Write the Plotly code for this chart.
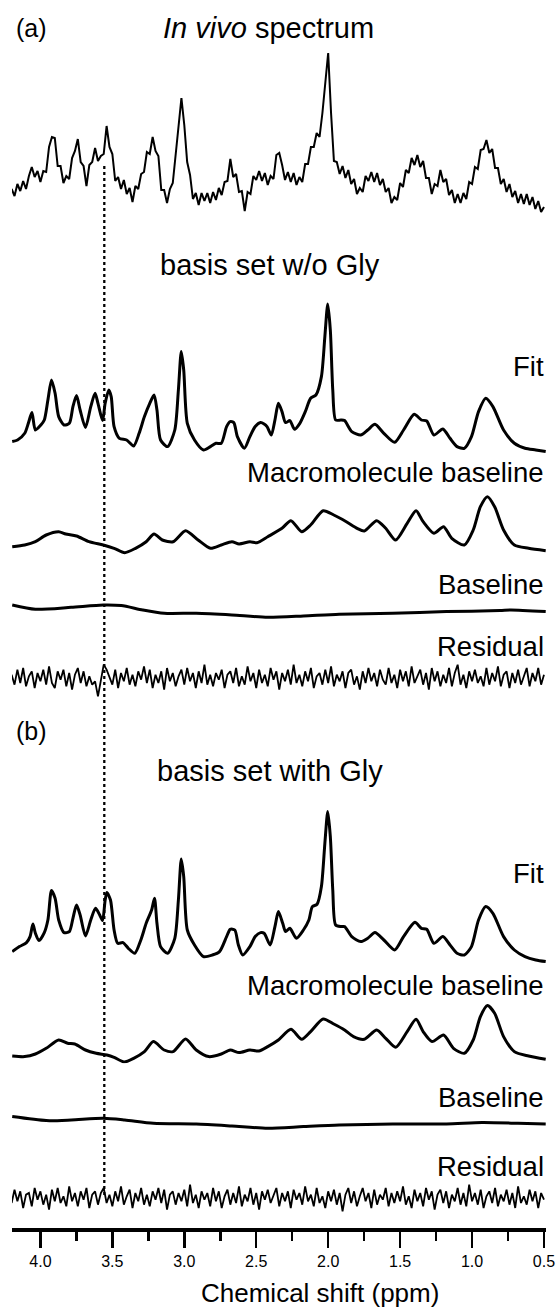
import plotly.graph_objects as go

# ---------------- data ----------------
GRID_START = 4.20   # ppm, first point of the uniformly sampled traces
GRID_STEP = 0.02    # ppm step of the uniformly sampled traces
GLY_PPM = 3.556     # glycine position marked by the dotted line

invivo = [
    31, 24, 36, 29, 39, 31, 44, 53, 43, 49,
    38, 49, 48, 73, 83, 82, 54, 54, 37, 44,
    41, 62, 69, 81, 58, 54, 34, 55, 58, 72,
    59, 64, 66, 94, 73, 66, 39, 43, 31, 40,
    26, 32, 18, 34, 31, 46, 48, 68, 66, 83,
    69, 64, 30, 30, 17, 31, 37, 66, 95, 122,
    95, 58, 45, 21, 27, 15, 27, 19, 27, 17,
    28, 20, 32, 25, 38, 39, 61, 43, 46, 28,
    29, 9, 28, 26, 44, 40, 49, 39, 47, 35,
    44, 41, 65, 67, 55, 40, 48, 38, 47, 35,
    43, 38, 56, 56, 73, 73, 87, 83, 107, 140,
    167, 107, 59, 58, 46, 54, 42, 50, 36, 41,
    26, 32, 28, 44, 39, 48, 38, 47, 35, 41,
    28, 32, 17, 23, 20, 37, 33, 50, 47, 62,
    55, 65, 53, 59, 42, 42, 26, 36, 34, 50,
    38, 41, 25, 30, 17, 26, 17, 27, 21, 38,
    36, 53, 51, 70, 71, 80, 67, 71, 52, 52,
    36, 41, 28, 36, 23, 29, 17, 26, 16, 26,
    15, 23, 11, 19, 8, 13,
]

residual_a = [
    2, -4, 5, -3, 6, -5, 1, 4, -6, 3,
    -2, 5, -4, 7, -3, -6, 4, -1, 5, -5,
    3, -7, 2, 6, -3, 4, -5, 1, -4, -2,
    -11, -2, 8, 5, 1, -4, 5, -6, 3, -2,
    6, -4, 2, -5, 4, -1, 7, -3, 5, -6,
    2, -3, 4, -7, 6, -2, 3, -5, 1, 5,
    -4, 6, -2, 3, -6, 4, -3, 8, -4, 2,
    -5, 3, -1, 5, -6, 2, 4, -3, 6, -5,
    1, -4, 7, -2, 3, -6, 5, -3, 2, -5,
    6, -1, 4, -7, 3, -2, 5, -4, 8, -3,
    2, -5, 4, -2, 6, -6, 1, 3, -4, 5,
    -3, 7, -5, 2, -2, 4, -6, 3, 5, -4,
    1, -7, 4, -3, 6, -2, 3, -5, 5, -1,
    -4, 6, -3, 2, -6, 5, -2, 4, -5, 7,
    -3, 1, 5, -4, 3, -7, 6, -2, 4, -5,
    2, -3, 6, -5, 3, 8, -4, 2, -6, 4,
    -2, 5, -3, 1, -5, 6, -4, 3, -2, 7,
    -5, 2, 4, -6, 3, -3, 5, -4, 1, 6,
    -5, 3, -2, 6, -4, 2,
]

residual_b = [
    -3, 5, -2, 4, -6, 2, 3, -5, 6, -1,
    4, -4, 2, -7, 5, -2, 6, -3, 1, -5,
    7, -2, 3, -5, 4, -1, 6, -6, 2, 4,
    -4, 3, 6, -3, 2, -5, 4, -2, 7, -4,
    1, 5, -6, 3, -2, 6, -4, 2, -5, 4,
    -1, 6, -3, 5, -7, 2, 4, -4, 3, -2,
    5, -5, 8, -3, 2, -6, 4, -1, 3, -5,
    6, -2, 4, -6, 1, 5, -4, 3, -3, 7,
    -5, 2, -2, 6, -4, 3, -7, 4, -1, 5,
    -3, 2, 6, -5, 3, -2, 4, -6, 5, -1,
    3, -4, 7, -2, 2, -5, 6, -3, 1, -6,
    4, -2, 5, -4, 3, -8, 2, 6, -3, 4,
    -5, 1, 6, -2, 3, -6, 5, -4, 2, -1,
    6, -5, 3, -3, 4, -2, 7, -4, 1, -6,
    5, -2, 3, -5, 6, -1, 4, -7, 2, 5,
    -3, 4, -6, 2, -2, 6, -4, 3, -5, 8,
    -2, 3, -4, 5, -6, 1, 4, -3, 6, -5,
    2, -2, 5, -4, 3, -6, 7, -3, 1, -4,
    5, -2, 4, -6, 3, -1,
]

fit_a_ppm = [
    4.196, 4.159, 4.109, 4.084, 4.059, 4.035, 3.997, 3.973, 3.948, 3.923,
    3.898, 3.873, 3.836, 3.799, 3.774, 3.749, 3.724, 3.687, 3.650, 3.620,
    3.600, 3.568, 3.550, 3.525, 3.508, 3.488, 3.451, 3.401, 3.352, 3.314,
    3.277, 3.240, 3.210, 3.190, 3.165, 3.116, 3.066, 3.041, 3.021, 3.004,
    2.979, 2.929, 2.867, 2.818, 2.780, 2.743, 2.706, 2.681, 2.656, 2.631,
    2.582, 2.544, 2.507, 2.470, 2.445, 2.425, 2.395, 2.370, 2.346, 2.321,
    2.296, 2.266, 2.234, 2.197, 2.159, 2.122, 2.085, 2.047, 2.023, 2.003,
    1.985, 1.968, 1.948, 1.911, 1.886, 1.836, 1.774, 1.725, 1.675, 1.613,
    1.538, 1.476, 1.402, 1.352, 1.315, 1.265, 1.203, 1.153, 1.104, 1.054,
    1.004, 0.955, 0.905, 0.855, 0.781, 0.706, 0.632, 0.557, 0.488,
]
fit_a = [
    11.7, 13.3, 20, 30, 40.7, 23.3, 28.3, 33.3, 53.3, 73.3,
    60, 36.7, 28.3, 30, 46.7, 57.7, 43.3, 25.7, 46.7, 60,
    50, 32.7, 50, 63.3, 56.7, 26.7, 15, 13.3, 7.3, 20,
    36.7, 50, 58.3, 43.3, 13.3, 6.7, 23.3, 63.3, 101.7, 83.3,
    30, 13.3, 3.3, 6.7, 10, 10, 26.7, 31.7, 30.7, 16.7,
    5, 16.7, 26.7, 30.7, 29.3, 26.7, 18.3, 33.3, 50, 41.7,
    30.7, 32.7, 24, 30, 41.7, 55, 58.3, 76.7, 116.7, 149.3,
    123.3, 63.3, 33.3, 33.3, 32.7, 21.7, 18.3, 23.3, 29, 20,
    11, 23.3, 39, 33.3, 32.3, 18.3, 24.3, 15, 6.7, 5,
    16.7, 41.7, 55, 46.7, 23.3, 10, 5, 3.3, 1.7,
]

mm_a_ppm = [
    4.196, 4.109, 4.035, 3.960, 3.873, 3.824, 3.749, 3.662, 3.563, 3.488,
    3.414, 3.339, 3.265, 3.210, 3.153, 3.078, 2.991, 2.904, 2.818, 2.743,
    2.669, 2.619, 2.544, 2.495, 2.420, 2.321, 2.259, 2.184, 2.122, 2.035,
    1.961, 1.874, 1.799, 1.749, 1.663, 1.600, 1.531, 1.451, 1.389, 1.340,
    1.265, 1.198, 1.141, 1.054, 0.992, 0.942, 0.893, 0.843, 0.781, 0.706,
    0.607, 0.488,
]
mm_a = [
    8.3, 10, 13.3, 20, 23.3, 21, 19, 13.3, 10, 6.7,
    2.3, 6.7, 13.3, 21, 15, 13.3, 24.3, 15, 6.7, 10,
    13.3, 11, 13.3, 12.3, 18.3, 26.7, 34.3, 23.3, 30, 44.3,
    40, 33.3, 26.7, 24, 34.3, 26.7, 15, 31.7, 44.3, 33.3,
    21.7, 28.3, 16.7, 10, 25, 48.3, 58.3, 48.3, 25, 10,
    6.7, 4.3,
]

base_a_ppm = [4.196, 4.035, 3.786, 3.563, 3.438, 3.289, 3.140, 2.917, 2.669,
              2.420, 2.172, 1.923, 1.551, 1.178, 0.806, 0.731, 0.488]
base_a = [18.3, 14, 16, 18.3, 17.7, 13.3, 10, 10, 8.3,
          6, 7.3, 9, 10, 11.7, 12.7, 13.3, 11.7]

fit_b_ppm = [
    4.196, 4.146, 4.097, 4.072, 4.052, 4.035, 4.010, 3.973, 3.948, 3.923,
    3.898, 3.873, 3.836, 3.799, 3.774, 3.749, 3.724, 3.687, 3.650, 3.617,
    3.588, 3.568, 3.550, 3.538, 3.513, 3.488, 3.463, 3.426, 3.389, 3.344,
    3.302, 3.265, 3.227, 3.207, 3.190, 3.165, 3.116, 3.066, 3.041, 3.021,
    3.004, 2.979, 2.929, 2.867, 2.805, 2.755, 2.706, 2.681, 2.649, 2.624,
    2.594, 2.544, 2.507, 2.470, 2.445, 2.403, 2.370, 2.346, 2.316, 2.296,
    2.266, 2.221, 2.172, 2.134, 2.110, 2.077, 2.047, 2.023, 2.003, 1.985,
    1.968, 1.948, 1.911, 1.886, 1.836, 1.774, 1.725, 1.675, 1.613, 1.538,
    1.476, 1.397, 1.352, 1.315, 1.265, 1.203, 1.153, 1.104, 1.054, 1.004,
    0.955, 0.905, 0.855, 0.781, 0.706, 0.632, 0.557, 0.488,
]
fit_b = [
    11.7, 16.7, 20.7, 26.7, 39.3, 30, 22.7, 30.7, 43.3, 72.7,
    65, 43.3, 30.7, 31.7, 45, 58.3, 48.3, 27.3, 43.3, 55,
    48.3, 42.7, 63.3, 70.7, 63.3, 33.3, 20, 20.7, 15, 10,
    23.3, 40, 53.3, 65, 40, 16.7, 10, 25, 63.3, 104.3,
    86.7, 33.3, 18.3, 6.7, 8.3, 11.7, 26.7, 34, 33.3, 18.3,
    8.3, 16.7, 26.7, 30.7, 30, 18.3, 36.7, 51.7, 40, 31.7,
    35, 25, 33.3, 43.3, 56.7, 59, 76.7, 120, 151.7, 126.7,
    73.3, 38.3, 36.7, 36.7, 26.7, 21.7, 25, 30.7, 23.3, 13.3,
    26.7, 41, 35, 34, 20, 26.7, 18.3, 10, 8.3, 16.7,
    43.3, 56.7, 50, 26.7, 13.3, 6.7, 3.3, 1.7,
]

mm_b_ppm = [
    4.196, 4.109, 4.035, 3.960, 3.873, 3.811, 3.761, 3.687, 3.612, 3.538,
    3.488, 3.419, 3.352, 3.277, 3.215, 3.140, 3.078, 2.991, 2.917, 2.830,
    2.743, 2.681, 2.619, 2.544, 2.482, 2.420, 2.346, 2.259, 2.184, 2.122,
    2.035, 1.961, 1.886, 1.824, 1.749, 1.663, 1.600, 1.531, 1.451, 1.389,
    1.340, 1.278, 1.198, 1.129, 1.054, 0.992, 0.942, 0.893, 0.843, 0.781,
    0.706, 0.607, 0.488,
]
mm_b = [
    7.3, 6.7, 9.3, 15, 23.3, 20, 19.3, 13.3, 10, 8.3,
    6, 1.3, 5, 11.7, 21.7, 13.3, 11.7, 24.3, 13.3, 6.7,
    9.3, 13.3, 10.7, 13.3, 12.3, 16.7, 23.3, 34, 24, 31.7,
    44.3, 39.3, 33.3, 26.7, 24, 33.3, 25, 16, 31.7, 44,
    31.7, 21.7, 28.3, 15, 10, 23.3, 46.7, 57.7, 50, 26.7,
    11.7, 7.3, 4,
]

base_b_ppm = [4.196, 3.960, 3.786, 3.563, 3.414, 3.215, 2.917, 2.669, 2.420,
              2.172, 1.923, 1.551, 1.178, 0.930, 0.681, 0.488]
base_b = [16.7, 12.7, 13.3, 15, 13.3, 10, 9.3, 7.3, 5,
          6.7, 8.3, 9.3, 9.3, 10.7, 10, 9.3]

tick_values = [4.0, 3.5, 3.0, 2.5, 2.0, 1.5, 1.0, 0.5]

# ---------------- layout helpers ----------------
W, H = 559, 1314
ML, MR, MT, MB = 12, 13, 0, 85
PW = W - ML - MR
PH = H - MT - MB
X_RANGE = [4.1975, 0.486]
FONT = "Liberation Sans, Arial, Helvetica, sans-serif"


def grid(n):
    return [round(GRID_START - GRID_STEP * i, 3) for i in range(n)]


def py(y_px):
    """pixel row (from top of figure) -> paper fraction of the plot area"""
    return (PH - (y_px - MT)) / PH


def px(x_px):
    return (x_px - ML) / PW


def dom(y_bottom, span):
    return [py(y_bottom), py(y_bottom - span)]


# x, y, y-range, domain(pixels), line width, shape
panels = [
    (grid(len(invivo)), invivo, [0, 200], dom(220, 200), 2.0, "linear"),
    (fit_a_ppm, fit_a, [0, 170], dom(453.3, 170), 3.0, "spline"),
    (mm_a_ppm, mm_a, [0, 80], dom(555, 80), 3.0, "spline"),
    (base_a_ppm, base_a, [0, 30], dom(623.3, 30), 3.0, "spline"),
    (grid(len(residual_a)), residual_a, [-12, 12], dom(698, 40), 1.8, "linear"),
    (fit_b_ppm, fit_b, [0, 170], dom(963.3, 170), 3.0, "spline"),
    (mm_b_ppm, mm_b, [0, 80], dom(1063.3, 80), 3.0, "spline"),
    (base_b_ppm, base_b, [0, 30], dom(1133.3, 30), 3.0, "spline"),
    (grid(len(residual_b)), residual_b, [-12, 12], dom(1218, 40), 1.8, "linear"),
]

fig = go.Figure()
layout = {}
for i, (xs, ys, yr, dm, lw, shape) in enumerate(panels, start=1):
    ax = "y" if i == 1 else f"y{i}"
    line = dict(color="black", width=lw, shape=shape)
    if shape == "spline":
        line["smoothing"] = 0.7
    fig.add_trace(go.Scatter(x=xs, y=ys, mode="lines", line=line,
                             xaxis="x", yaxis=ax, showlegend=False,
                             hoverinfo="skip"))
    key = "yaxis" if i == 1 else f"yaxis{i}"
    layout[key] = dict(domain=dm, range=yr, visible=False, anchor="x",
                       fixedrange=True)

fig.update_layout(**layout)

fig.update_layout(
    width=W, height=H,
    margin=dict(l=ML, r=MR, t=MT, b=MB, pad=0),
    paper_bgcolor="white", plot_bgcolor="white",
    font=dict(family=FONT, color="black"),
    xaxis=dict(
        range=X_RANGE, domain=[0, 1], anchor="free", position=0,
        showgrid=False, zeroline=False, fixedrange=True,
        showline=True, linecolor="black", linewidth=3.5,
        ticks="outside", ticklen=16, tickwidth=2.5, tickcolor="black",
        tickmode="array", tickvals=tick_values,
        ticktext=[f"{v:.1f}" for v in tick_values],
        tickfont=dict(size=16, family=FONT, color="black"),
        minor=dict(dtick=0.25, tick0=0, ticks="outside", ticklen=9,
                   tickwidth=2.5, tickcolor="black", showgrid=False),
    ),
)

fig.add_shape(type="line", xref="x", yref="paper",
              x0=GLY_PPM, x1=GLY_PPM, y0=py(1195), y1=py(165),
              line=dict(color="black", width=2.3, dash="dot"))

labels = [
    ("(a)", px(14), 28, "left", 25),
    ("<i>In vivo</i> spectrum", px(268), 28, "center", 29),
    ("basis set w/o Gly", px(270), 265, "center", 29),
    ("Fit", 1.0, 366, "right", 27.5),
    ("Macromolecule baseline", 1.0, 472, "right", 27.5),
    ("Baseline", 1.0, 585, "right", 27.5),
    ("Residual", 1.0, 646, "right", 27.5),
    ("(b)", px(14), 731, "left", 25),
    ("basis set with Gly", px(270), 771, "center", 29),
    ("Fit", 1.0, 873, "right", 27.5),
    ("Macromolecule baseline", 1.0, 985, "right", 27.5),
    ("Baseline", 1.0, 1097, "right", 27.5),
    ("Residual", 1.0, 1166, "right", 27.5),
    ("Chemical shift (ppm)", px(320), 1293, "center", 26),
]
for text, x, y, xa, size in labels:
    fig.add_annotation(text=text, x=x, y=py(y), xref="paper", yref="paper",
                       xanchor=xa, yanchor="middle", showarrow=False,
                       font=dict(size=size, family=FONT, color="black"))

# remove the browser's default 8px body margin so the figure sits at (0, 0)
fig.write_html("out.html",
               config={"displayModeBar": False, "staticPlot": True},
               post_script="document.body.style.margin='0';"
                           "document.body.style.overflow='hidden';")
